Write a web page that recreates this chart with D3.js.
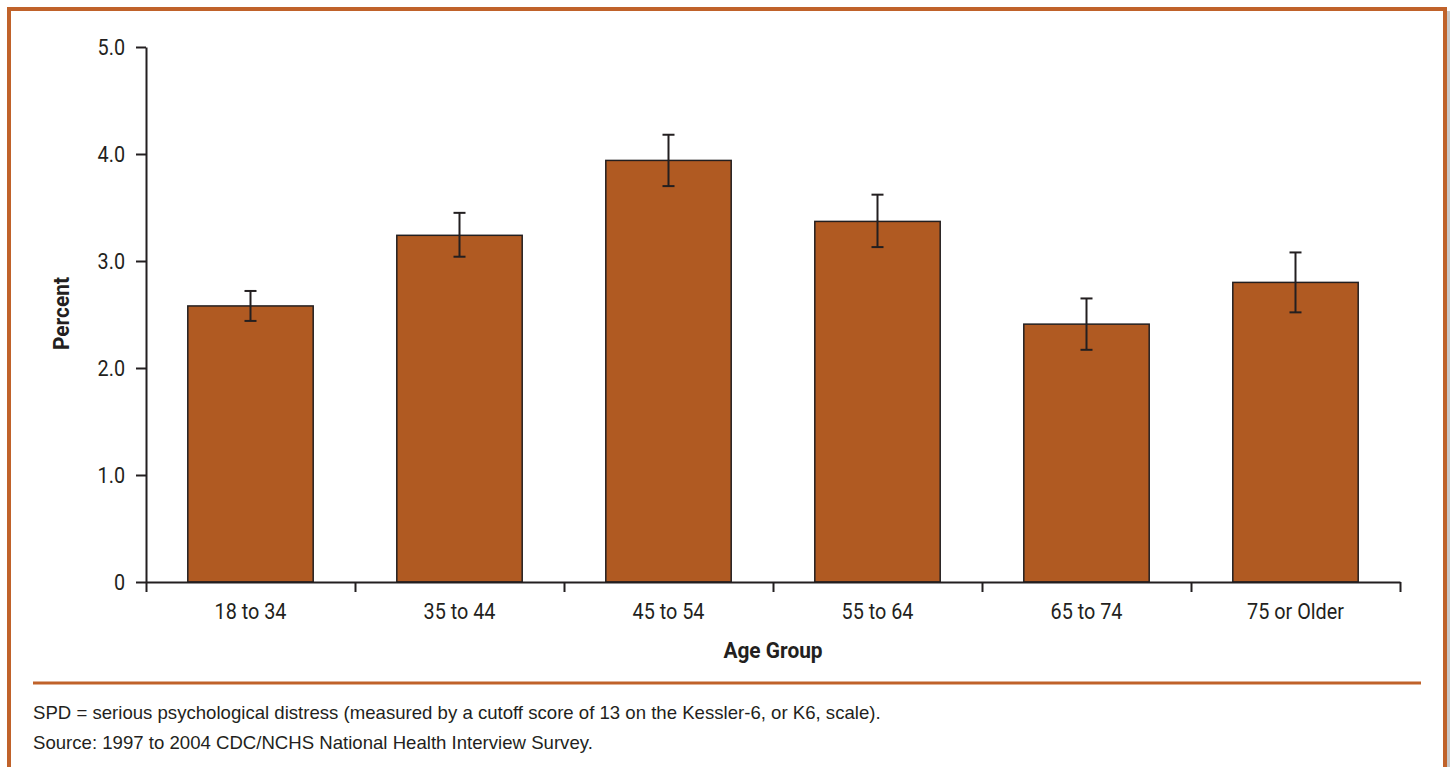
<!DOCTYPE html>
<html>
<head>
<meta charset="utf-8">
<script src="https://cdn.jsdelivr.net/npm/d3@7"></script>
<style>
  body { margin: 0; background: #fff; }
  .cond { font-family: "Liberation Sans Narrow", "Roboto", "Liberation Sans", sans-serif; }
  .note { font-family: "Liberation Sans", "Helvetica", Arial, sans-serif; }
</style>
</head>
<body>
<div id="chart"></div>
<script>
// data
var ageGroups = ["18 to 34", "35 to 44", "45 to 54", "55 to 64", "65 to 74", "75 or Older"];
var percents = [2.58, 3.24, 3.94, 3.37, 2.41, 2.80];
var errLow = [2.44, 3.04, 3.70, 3.13, 2.17, 2.52];
var errHigh = [2.72, 3.45, 4.18, 3.62, 2.65, 3.08];
var yTicks = [0, 1, 2, 3, 4, 5];
var notes = [
  "SPD = serious psychological distress (measured by a cutoff score of 13 on the Kessler-6, or K6, scale).",
  "Source: 1997 to 2004 CDC/NCHS National Health Interview Survey."
];

var svgWidth = 1450;
var svgHeight = 767;
var margin = {top: 47, left: 146, right: 50, bottom: 185};
var chartWidth = 1400 - margin.left;
var chartHeight = 582 - margin.top;
var orange = "#c0622a";
var barColor = "#b05a22";
var ink = "#231f20";
var squeeze = 0.9; // fake a condensed face

var svg = d3.select("#chart").append("svg")
    .attr("width", svgWidth)
    .attr("height", svgHeight);

// frame
svg.append("rect").attr("x", 1447).attr("y", 11).attr("width", 3).attr("height", svgHeight)
    .attr("fill", "#c8c8c8");
svg.append("line").attr("x1", 7).attr("x2", 1447).attr("y1", 9).attr("y2", 9)
    .attr("stroke", orange).attr("stroke-width", 4);
svg.append("line").attr("x1", 9).attr("x2", 9).attr("y1", 7).attr("y2", svgHeight)
    .attr("stroke", orange).attr("stroke-width", 4);
svg.append("line").attr("x1", 1445).attr("x2", 1445).attr("y1", 7).attr("y2", svgHeight)
    .attr("stroke", orange).attr("stroke-width", 4);

var chartGroup = svg.append("g")
    .attr("transform", `translate(${margin.left},${margin.top})`);

var xBand = d3.scaleBand()
    .domain(ageGroups)
    .range([0, chartWidth])
    .paddingInner(0.4)
    .paddingOuter(0.2);

var yLinearScale = d3.scaleLinear()
    .domain([0, 5])
    .range([chartHeight, 0]);

// bars
chartGroup.selectAll(".bar")
    .data(ageGroups)
    .enter()
    .append("rect")
    .attr("class", "bar")
    .attr("x", d => xBand(d))
    .attr("y", (d, i) => yLinearScale(percents[i]))
    .attr("width", xBand.bandwidth())
    .attr("height", (d, i) => chartHeight - yLinearScale(percents[i]))
    .attr("fill", barColor)
    .attr("stroke", ink)
    .attr("stroke-width", 1.5);

// error bars
var errGroup = chartGroup.selectAll(".err")
    .data(ageGroups)
    .enter()
    .append("g")
    .attr("class", "err")
    .attr("transform", d => `translate(${xBand(d) + xBand.bandwidth() / 2},0)`)
    .attr("stroke", ink)
    .attr("stroke-width", 2);
errGroup.append("line")
    .attr("y1", (d, i) => yLinearScale(errLow[i]))
    .attr("y2", (d, i) => yLinearScale(errHigh[i]));
errGroup.append("line").attr("x1", -6).attr("x2", 6)
    .attr("y1", (d, i) => yLinearScale(errLow[i]))
    .attr("y2", (d, i) => yLinearScale(errLow[i]));
errGroup.append("line").attr("x1", -6).attr("x2", 6)
    .attr("y1", (d, i) => yLinearScale(errHigh[i]))
    .attr("y2", (d, i) => yLinearScale(errHigh[i]));

// y axis
var leftAxis = d3.axisLeft(yLinearScale)
    .tickValues(yTicks)
    .tickSize(10)
    .tickPadding(11)
    .tickSizeOuter(0)
    .tickFormat(d => d === 0 ? "0" : d3.format(".1f")(d));
var yAxis = chartGroup.append("g").call(leftAxis);

// x axis with ticks at band boundaries
var xBoundary = d3.scaleLinear().domain([0, ageGroups.length]).range([0, chartWidth]);
var bottomAxis = d3.axisBottom(xBoundary)
    .tickValues(d3.range(ageGroups.length + 1))
    .tickSize(10)
    .tickSizeOuter(0)
    .tickFormat("");
var xAxis = chartGroup.append("g")
    .attr("transform", `translate(0,${chartHeight})`)
    .call(bottomAxis);

[xAxis, yAxis].forEach(function(ax) {
  ax.select(".domain").attr("stroke", ink).attr("stroke-width", 2);
  ax.selectAll(".tick line").attr("stroke", ink).attr("stroke-width", 2);
});
yAxis.selectAll(".tick text")
    .attr("class", "cond")
    .attr("font-size", 22)
    .attr("fill", ink)
    .attr("x", -21 / squeeze)
    .attr("transform", `scale(${squeeze},1)`);

// category labels
chartGroup.selectAll(".xlabel")
    .data(ageGroups)
    .enter()
    .append("text")
    .attr("class", "cond")
    .attr("transform", d => `translate(${xBand(d) + xBand.bandwidth() / 2},${chartHeight + 37}) scale(${squeeze},1)`)
    .attr("text-anchor", "middle")
    .attr("font-size", 22)
    .attr("fill", ink)
    .text(d => d);

// axis titles
chartGroup.append("text")
    .attr("class", "cond")
    .attr("transform", `translate(${chartWidth / 2},${chartHeight + 76}) scale(0.95,1)`)
    .attr("text-anchor", "middle")
    .attr("font-size", 22)
    .attr("font-weight", "bold")
    .attr("fill", ink)
    .text("Age Group");

chartGroup.append("text")
    .attr("class", "cond")
    .attr("transform", `translate(-77,${chartHeight / 2 - 1}) rotate(-90) scale(0.95,1)`)
    .attr("text-anchor", "middle")
    .attr("font-size", 22)
    .attr("font-weight", "bold")
    .attr("fill", ink)
    .text("Percent");

// separator and notes
svg.append("line").attr("x1", 33).attr("x2", 1421).attr("y1", 683).attr("y2", 683)
    .attr("stroke", orange).attr("stroke-width", 3);

svg.selectAll(".note")
    .data(notes)
    .enter()
    .append("text")
    .attr("class", "note")
    .attr("x", 33)
    .attr("y", (d, i) => 719 + i * 30)
    .attr("font-size", 18.6)
    .attr("fill", ink)
    .text(d => d);
</script>
</body>
</html>
